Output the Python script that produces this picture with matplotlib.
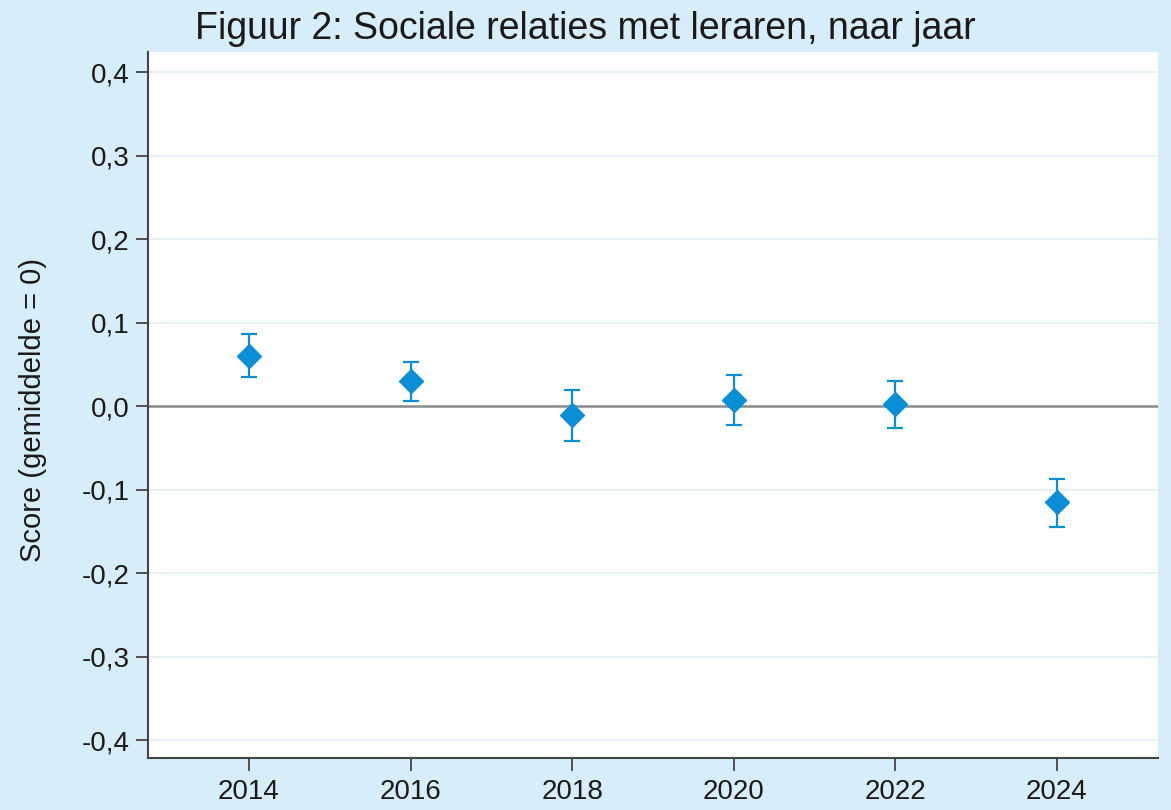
import matplotlib.pyplot as plt

years = [2014, 2016, 2018, 2020, 2022, 2024]
score = [0.060, 0.030, -0.011, 0.007, 0.002, -0.115]
lower = [0.035, 0.006, -0.042, -0.023, -0.026, -0.145]
upper = [0.086, 0.053, 0.019, 0.037, 0.030, -0.087]
yticks = [-0.4, -0.3, -0.2, -0.1, 0.0, 0.1, 0.2, 0.3, 0.4]

bg = '#d7eefa'
blue = '#0a8fd6'

plt.rcParams['font.family'] = ['Liberation Sans', 'DejaVu Sans']

fig = plt.figure(figsize=(11.71, 8.10), dpi=100, facecolor=bg)
ax = fig.add_axes([148 / 1171, 52 / 810, 1010 / 1171, 706 / 810])

err = [[s - l for s, l in zip(score, lower)], [u - s for s, u in zip(score, upper)]]
ax.errorbar(years, score, yerr=err, fmt='none', ecolor=blue, elinewidth=1.6,
            capsize=6, capthick=1.6, zorder=3)
ax.plot(years, score, linestyle='none', marker='D', markersize=12.5, color=blue, zorder=4)

ax.axhline(0, color='#8a8a8a', linewidth=1.8, zorder=2)
for t in yticks:
    if t != 0:
        ax.axhline(t, color='#e8f1f3', linewidth=1.5, zorder=1)

ax.set_xlim(2012.75, 2025.25)
ax.set_ylim(-0.4215, 0.424)
ax.set_xticks(years)
ax.set_yticks(yticks)
ax.set_yticklabels([f'{t:.1f}'.replace('.', ',').replace('-0,0', '0,0') for t in yticks])
ax.tick_params(axis='both', labelsize=20, length=9, width=1.3, color='#444444',
               labelcolor='#1a1a1a')
ax.tick_params(axis='y', pad=4)
ax.tick_params(axis='x', pad=6)

for side in ['top', 'right']:
    ax.spines[side].set_visible(False)
for side in ['left', 'bottom']:
    ax.spines[side].set_color('#444444')
    ax.spines[side].set_linewidth(1.5)

fig.text(33 / 1171, 1 - 410 / 810, 'Score (gemiddelde = 0)', rotation=90,
         fontsize=21, color='#1a1a1a', ha='center', va='center')
fig.text(0.5, 1 - 29 / 810, 'Figuur 2: Sociale relaties met leraren, naar jaar',
         fontsize=27, color='#1a1a1a', ha='center', va='center')

fig.savefig('out.png', dpi=100, facecolor=bg)
